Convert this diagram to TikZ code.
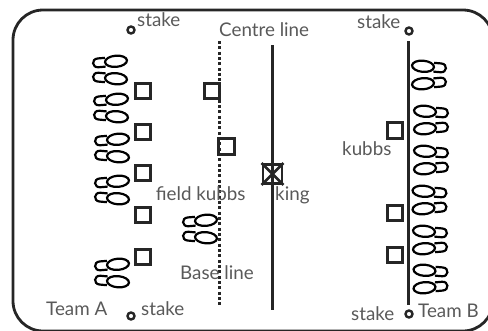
\documentclass[tikz,border=0pt]{standalone}
\usepackage{fontspec}
\setmainfont{Lato}
\tikzset{
  x=1pt,y=-1pt,
  ink/.style={draw=black!85,line width=2.6pt},
  shoeline/.style={draw=black,line width=2.2pt},
  kubb/.style={draw=black!85,line width=2.8pt,minimum size=15.5pt,inner sep=0pt,fill=none},
  stakept/.style={circle,draw=black!85,line width=2.4pt,minimum size=7pt,inner sep=0pt},
  lbl/.style={anchor=base west,inner sep=0pt,text=black!65,font=\fontsize{18.8}{20}\selectfont},
  feet/.pic={
    \begin{scope}[shift={(0,-8.2)},rotate=5]
      \draw[shoeline] (6,0) ellipse [x radius=11,y radius=5.6];
      \draw[shoeline] (-4.8,-4.4) -- (-12,-4.4) .. controls (-18.6,-4.4) and (-18.6,4.4) .. (-12,4.4) -- (-4.8,4.4);
    \end{scope}
    \begin{scope}[shift={(0,8.2)},rotate=-5]
      \draw[shoeline] (6,0) ellipse [x radius=11,y radius=5.6];
      \draw[shoeline] (-4.8,-4.4) -- (-12,-4.4) .. controls (-18.6,-4.4) and (-18.6,4.4) .. (-12,4.4) -- (-4.8,4.4);
    \end{scope}
  }
}
\begin{document}
\begin{tikzpicture}[x=1pt,y=-1pt]
\useasboundingbox (0,0) rectangle (488,330);
\begin{scope}
\clip (0,0) rectangle (488,330);
\draw[ink,line width=2.8pt,rounded corners=30pt] (13,10) rectangle (493,331);
\end{scope}
% stakes
\node[stakept] (s1) at (131,30) {};
\node[stakept] (s2) at (131,316) {};
\node[stakept] (s3) at (409,31) {};
\node[stakept] (s4) at (409,314) {};
% lines
\coordinate (c1) at (272.5,45); \coordinate (c2) at (272.5,310);
\coordinate (b1) at (408.5,41); \coordinate (b2) at (408.5,305);
\coordinate (d1) at (219,41); \coordinate (d2) at (219,305);
\draw[ink] (c1) -- (c2);
\draw[ink] (b1) -- (b2);
\draw[draw=black!85,line width=3pt,dash pattern=on 3pt off 2.33pt] (d1) -- (d2);
% kubbs
\foreach \n/\x/\y in {k1/143/91,k2/143/132,k3/143/173,k4/143/215,k5/143/257,f1/212/91,f2/226.5/146.5,r1/395/130.5,r2/395/213,r3/395/255}
  \node[kubb] (\n) at (\x,\y) {};
\node[kubb,minimum size=19pt] (king) at (272.5,174) {};
\draw[ink] (king.north west) -- (king.south east) (king.north east) -- (king.south west);
% feet
\foreach \x/\y in {110/70,111/108,112/148,112/190,112/273,200/229}
  \pic at (\x,\y) {feet};
\foreach \x/\y in {429/75,431/120,431/160,429.5/200,430/240,430.5/279}
  \pic[xscale=-1] at (\x,\y) {feet};
% labels
\node[lbl] (t1) at (137,26) {stake};
\node[lbl] (t2) at (219,36) {Centre line};
\node[lbl] (t3) at (357,28) {stake};
\node[lbl] (t4) at (342,155) {kubbs};
\node[lbl] (t5) at (155.7,200.7) {field kubbs};
\node[lbl] (t6) at (275,200.7) {king};
\node[lbl] (t7) at (180,279) {Base line};
\node[lbl] (t8) at (46,315.7) {Team A};
\node[lbl] (t9) at (141,315.7) {stake};
\node[lbl] (t10) at (351,320.7) {stake};
\node[lbl] (t11) at (418,317.7) {Team B};
\end{tikzpicture}
\end{document}
